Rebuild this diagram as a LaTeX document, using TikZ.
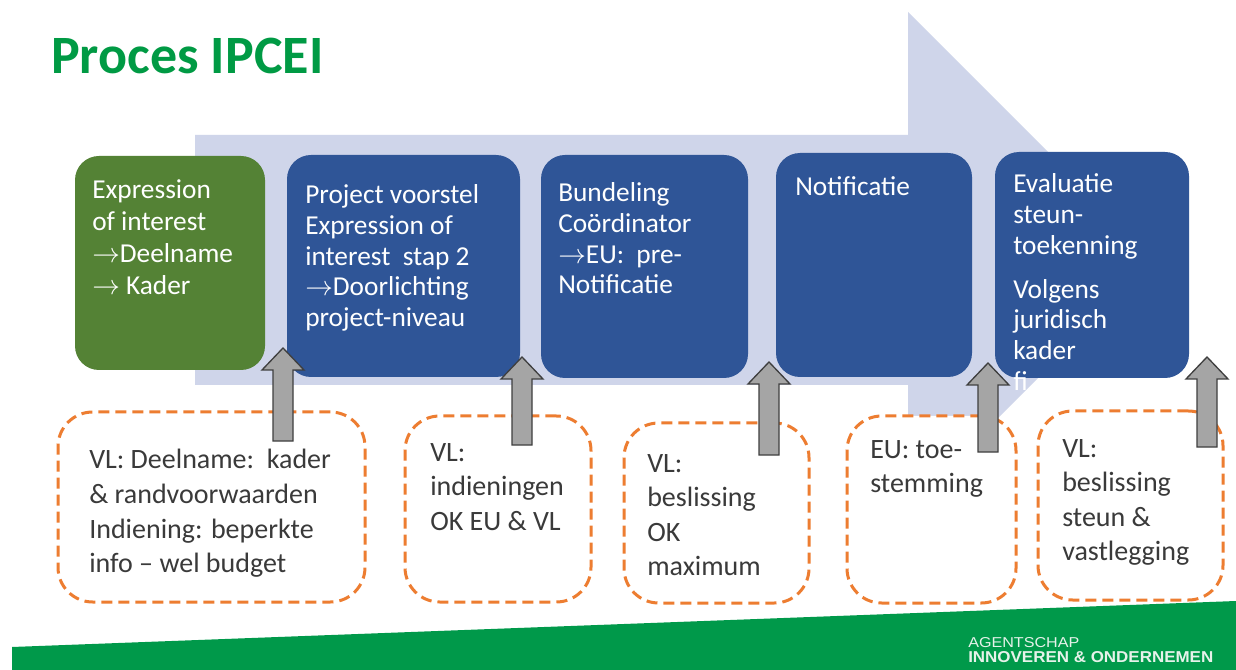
\documentclass[tikz,border=0pt]{standalone}
\usepackage{fontspec}
\setmainfont{Carlito}
\newfontfamily\logofont{Liberation Sans}
\definecolor{titlegreen}{HTML}{009A44}
\definecolor{boxgreen}{HTML}{548235}
\definecolor{boxblue}{HTML}{2F5597}
\definecolor{arrowblue}{HTML}{CFD5EA}
\definecolor{dashorange}{HTML}{ED7D31}
\definecolor{textgray}{HTML}{3A3A3A}
\definecolor{arrowgray}{HTML}{A5A5A5}
\definecolor{arrowline}{HTML}{3F3F3F}
\definecolor{bandgreen}{HTML}{00994A}
\definecolor{logotext}{HTML}{E6F2EA}
\newcommand\blockup[3]{%
  \draw[grayarr] (#1-10,#3) -- (#1-10,#2+22) -- (#1-21,#2+22) -- (#1,#2)
    -- (#1+21,#2+22) -- (#1+10,#2+22) -- (#1+10,#3) -- cycle;}
\newcommand\tlines[1]{\begin{tabular}[t]{@{}l@{}}#1\end{tabular}}
\begin{document}
\begin{tikzpicture}[x=0.75pt,y=-0.75pt,
  solidbox/.style={rounded corners=18pt, inner sep=0pt, draw=none},
  dashbox/.style={rounded corners=26pt, inner sep=0pt, fill=white, draw=dashorange,
    line width=2.25pt, dash pattern=on 8.25pt off 4.5pt},
  boxtext/.style={anchor=base west, inner sep=0pt, text=white,
    font=\fontsize{20.5}{23}\selectfont},
  notetext/.style={anchor=base west, inner sep=0pt, text=textgray,
    font=\fontsize{21}{25.9}\selectfont},
  grayarr/.style={fill=arrowgray, draw=arrowline, line width=1pt, line join=miter}]
\useasboundingbox (0,0) rectangle (1236,670);
\fill[white] (0,0) rectangle (1236,670);
% big background arrow
\fill[arrowblue] (195,135) -- (908,135) -- (908,12) -- (1156,260) -- (908,508)
  -- (908,385) -- (195,385) -- cycle;
% green band
\fill[bandgreen] (12,647) -- (1236,601) -- (1236,670) -- (12,670) -- cycle;
% title
\node[anchor=base west, inner sep=0pt, text=titlegreen,
  font=\fontsize{40.5}{48}\selectfont\bfseries] (title) at (51,74) {Proces IPCEI};
% solid boxes
\node[solidbox, fill=boxgreen, minimum width=142.5pt, minimum height=160.5pt] (b1) at (170,263) {};
\node[solidbox, fill=boxblue, minimum width=174.75pt, minimum height=166.5pt] (b2) at (403.5,266) {};
\node[solidbox, fill=boxblue, minimum width=155.25pt, minimum height=167.25pt] (b3) at (644.5,266.5) {};
\node[solidbox, fill=boxblue, minimum width=147pt, minimum height=168pt] (b4) at (874,265) {};
\node[solidbox, fill=boxblue, minimum width=145.5pt, minimum height=169.5pt] (b5) at (1092,265) {};
% texts in solid boxes
\node[boxtext, font=\fontsize{20.5}{24}\selectfont] (t1) at (92,199)
  {\tlines{Expression\\of interest\\$\rightarrow$Deelname\\$\rightarrow$ Kader}};
\node[boxtext] (t2) at (305,204)
  {\tlines{Project voorstel\\Expression of\\interest\ \ stap 2\\$\rightarrow$Doorlichting\\project-niveau}};
\node[boxtext] (t3) at (558,202)
  {\tlines{Bundeling\\Coördinator\\$\rightarrow$EU:\ \ pre-\\Notificatie}};
\node[boxtext] (t4) at (795,196) {Notificatie};
\node[boxtext] (t5) at (1013,193)
  {\tlines{Evaluatie\\steun-\\toekenning\\[10pt]Volgens\\juridisch\\kader\\fi}};
% dashed note boxes
\node[dashbox, minimum width=230.25pt, minimum height=142.5pt] (d1) at (211.5,507) {};
\node[dashbox, minimum width=139.5pt, minimum height=139.5pt] (d2) at (498,509) {};
\node[dashbox, minimum width=138.75pt, minimum height=135pt] (d3) at (716.5,513) {};
\node[dashbox, minimum width=126.75pt, minimum height=140.25pt] (d4) at (931.5,509.5) {};
\node[dashbox, minimum width=138.75pt, minimum height=141.75pt] (d5) at (1130.5,505.5) {};
% note texts
\node[notetext] (n1) at (89,469)
  {\tlines{VL: Deelname:\ \ kader\\\& randvoorwaarden\\Indiening: beperkte\\info -- wel budget}};
\node[notetext] (n2) at (430,461) {\tlines{VL:\\indieningen\\OK EU \& VL}};
\node[notetext] (n3) at (647,472) {\tlines{VL:\\beslissing\\OK\\maximum}};
\node[notetext] (n4) at (870,458) {\tlines{EU: toe-\\stemming}};
\node[notetext] (n5) at (1062,457) {\tlines{VL:\\beslissing\\steun \&\\vastlegging}};
% gray block arrows
\blockup{283}{348}{441}
\blockup{522}{357}{445}
\blockup{769}{362}{455}
\blockup{988}{363}{452}
\blockup{1207}{357}{447}
% logo
\node[anchor=south west, inner sep=0pt, text=logotext] (logo1) at (968,648)
  {\resizebox{83.25pt}{7.5pt}{\logofont AGENTSCHAP}};
\node[anchor=south west, inner sep=0pt, text=logotext] (logo2) at (968,663)
  {\resizebox{183.75pt}{8.25pt}{\logofont\bfseries INNOVEREN \& ONDERNEMEN}};
\end{tikzpicture}
\end{document}
